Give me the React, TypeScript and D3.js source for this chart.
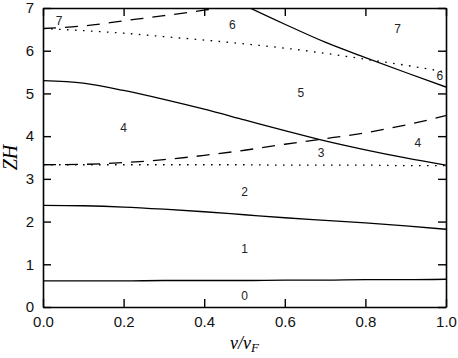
import React, { useEffect, useRef } from "react";
import * as d3 from "d3";

// v/vF sample points shared by the curves
const vGrid = [0, 0.1, 0.2, 0.3, 0.4, 0.5, 0.6, 0.7, 0.8, 0.9, 1.0];

// ZH values
const band01 = [0.61, 0.61, 0.61, 0.62, 0.62, 0.62, 0.63, 0.63, 0.64, 0.64, 0.65];
const band12 = [2.38, 2.37, 2.34, 2.29, 2.23, 2.16, 2.09, 2.03, 1.97, 1.9, 1.82];
const dottedLow = [3.33, 3.33, 3.33, 3.33, 3.33, 3.33, 3.32, 3.32, 3.32, 3.31, 3.31];
const dashedLow = [3.33, 3.34, 3.38, 3.45, 3.55, 3.67, 3.81, 3.94, 4.08, 4.26, 4.48];
const solidMid = [5.3, 5.24, 5.07, 4.86, 4.63, 4.38, 4.13, 3.89, 3.68, 3.49, 3.32];
const dottedHigh = [6.52, 6.47, 6.41, 6.33, 6.25, 6.16, 6.06, 5.94, 5.8, 5.66, 5.5];

const dashedHighV = [0, 0.1, 0.2, 0.3, 0.4, 0.5];
const dashedHigh = [6.52, 6.58, 6.7, 6.82, 6.95, 7.08];

const solidHighV = [0.5, 0.6, 0.7, 0.8, 0.9, 1.0];
const solidHigh = [7.06, 6.62, 6.2, 5.84, 5.49, 5.15];

// region labels: [v, ZH, text]
const regionLabels: [number, number, string][] = [
  [0.5, 0.25, "0"],
  [0.5, 1.35, "1"],
  [0.5, 2.7, "2"],
  [0.69, 3.6, "3"],
  [0.2, 4.2, "4"],
  [0.93, 3.85, "4"],
  [0.64, 5.0, "5"],
  [0.47, 6.6, "6"],
  [0.985, 5.4, "6"],
  [0.04, 6.7, "7"],
  [0.88, 6.5, "7"],
];

const xTicks = [0, 0.2, 0.4, 0.6, 0.8, 1.0];
const yTicks = [0, 1, 2, 3, 4, 5, 6, 7];

const W = 458;
const H = 358;
const margin = { top: 8, right: 12, bottom: 51, left: 43 };

const App = () => {
  const svgRef = useRef<SVGSVGElement>(null);

  useEffect(() => {
    document.body.style.margin = "0";
    const svg = d3.select(svgRef.current);
    svg.selectAll("*").remove();

    const width = W - margin.left - margin.right;
    const height = H - margin.top - margin.bottom;

    const x = d3.scaleLinear().domain([0, 1]).range([0, width]);
    const y = d3.scaleLinear().domain([0, 7]).range([height, 0]);

    svg.append("defs")
      .append("clipPath")
      .attr("id", "plotclip")
      .append("rect")
      .attr("width", width)
      .attr("height", height);

    const g = svg.append("g").attr("transform", `translate(${margin.left},${margin.top})`);

    const line = d3.line<[number, number]>()
      .x((d) => x(d[0]))
      .y((d) => y(d[1]))
      .curve(d3.curveMonotoneX);

    const curves: { v: number[]; zh: number[]; dash: string | null }[] = [
      { v: vGrid, zh: band01, dash: null },
      { v: vGrid, zh: band12, dash: null },
      { v: vGrid, zh: dottedLow, dash: "1.6,6.4" },
      { v: vGrid, zh: dashedLow, dash: "13,9" },
      { v: vGrid, zh: solidMid, dash: null },
      { v: vGrid, zh: dottedHigh, dash: "1.6,6.4" },
      { v: dashedHighV, zh: dashedHigh, dash: "13,9" },
      { v: solidHighV, zh: solidHigh, dash: null },
    ];

    const curveG = g.append("g").attr("clip-path", "url(#plotclip)");
    curves.forEach((c) => {
      const pts = c.v.map((v, i) => [v, c.zh[i]] as [number, number]);
      curveG.append("path")
        .attr("d", line(pts))
        .attr("fill", "none")
        .attr("stroke", "#000")
        .attr("stroke-width", 1.3)
        .attr("stroke-dasharray", c.dash);
    });

    // region labels
    g.selectAll("text.region")
      .data(regionLabels)
      .join("text")
      .attr("class", "region")
      .attr("x", (d) => x(d[0]))
      .attr("y", (d) => y(d[1]))
      .attr("text-anchor", "middle")
      .attr("dominant-baseline", "central")
      .attr("font-family", "Liberation Sans, Arial, sans-serif")
      .attr("font-size", 12)
      .attr("fill", "#222")
      .text((d) => d[2]);

    // axes: inward ticks on all four sides
    const font = "Liberation Sans, Arial, sans-serif";
    const bottom = g.append("g")
      .attr("transform", `translate(0,${height})`)
      .call(d3.axisBottom(x).tickValues(xTicks).tickFormat(d3.format(".1f")).tickSizeInner(-8).tickSizeOuter(0).tickPadding(9));
    const top = g.append("g")
      .call(d3.axisTop(x).tickValues(xTicks).tickFormat(() => "").tickSizeInner(-8).tickSizeOuter(0));
    const left = g.append("g")
      .call(d3.axisLeft(y).tickValues(yTicks).tickFormat(d3.format("d")).tickSizeInner(-8).tickSizeOuter(0).tickPadding(9));
    const right = g.append("g")
      .attr("transform", `translate(${width},0)`)
      .call(d3.axisRight(y).tickValues(yTicks).tickFormat(() => "").tickSizeInner(-8).tickSizeOuter(0));

    [bottom, top, left, right].forEach((a) => {
      a.selectAll("path").attr("stroke", "#000").attr("stroke-width", 1.6);
      a.selectAll("line").attr("stroke", "#000").attr("stroke-width", 1.4);
      a.selectAll("text")
        .attr("font-family", font)
        .attr("font-size", 15)
        .attr("fill", "#111");
    });

    // axis titles
    svg.append("text")
      .attr("transform", `translate(17,${margin.top + y(3.5)}) rotate(-90)`)
      .attr("text-anchor", "middle")
      .attr("font-family", "Liberation Serif, Times New Roman, serif")
      .attr("font-style", "italic")
      .attr("font-size", 20)
      .text("ZH");

    const xl = svg.append("text")
      .attr("x", margin.left + x(0.5))
      .attr("y", 349)
      .attr("text-anchor", "middle")
      .attr("font-family", "Liberation Serif, Times New Roman, serif")
      .attr("font-style", "italic")
      .attr("font-size", 18);
    xl.append("tspan").text("v/v");
    xl.append("tspan").attr("dy", 3).attr("font-size", 13).text("F");
  }, []);

  return <svg ref={svgRef} width={W} height={H} style={{ display: "block", background: "#fff" }} />;
};

export default App;
